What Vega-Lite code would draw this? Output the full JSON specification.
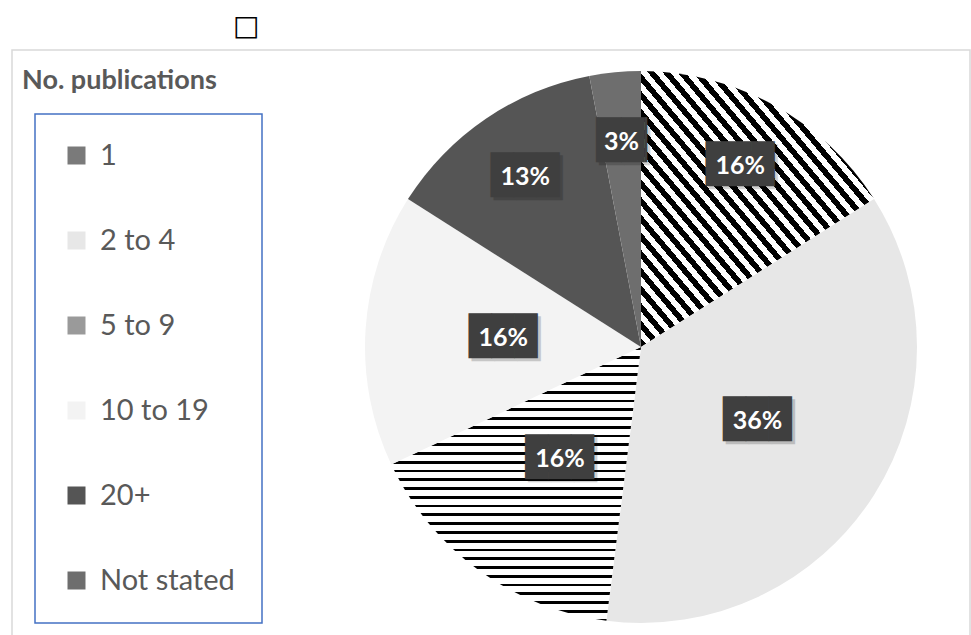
{
  "$schema": "https://vega.github.io/schema/vega-lite/v6.json",
  "width": 958,
  "height": 590,
  "autosize": {"type": "none"},
  "padding": {"left": 12, "top": 50, "right": 1, "bottom": 0},
  "background": "white",
  "view": {"stroke": "#d9d9d9", "strokeWidth": 1.5},
  "title": {
    "text": "□", "anchor": "start", "dx": 221, "offset": -66, "baseline": "alphabetic",
    "font": "DejaVu Sans", "fontSize": 28, "fontWeight": "normal", "color": "#000000",
    "subtitle": "No. publications", "subtitleFont": "Lato", "subtitleFontSize": 27, "subtitleFontWeight": "bold",
    "subtitleColor": "#595959", "subtitlePadding": 26,
    "encode": {"subtitle": {"update": {"dx": {"value": 10}}}}
  },
  "data": {
    "values": [
      {"idx": 1, "category": "1", "share": 0.16},
      {"idx": 2, "category": "2 to 4", "share": 0.36},
      {"idx": 3, "category": "5 to 9", "share": 0.16},
      {"idx": 4, "category": "10 to 19", "share": 0.16},
      {"idx": 5, "category": "20+", "share": 0.13},
      {"idx": 6, "category": "Not stated", "share": 0.03}
    ]
  },
  "encoding": {
    "theta": {"field": "share", "type": "quantitative", "stack": true},
    "order": {"field": "idx", "type": "quantitative"}
  },
  "layer": [
    {
      "mark": {"type": "arc", "outerRadius": 276, "xOffset": 150, "yOffset": 2},
      "encoding": {
        "color": {
          "condition": [
            {"test": "datum.category === '1'", "value":
              {"gradient": "linear", "x1": 0, "y1": 1, "x2": 1, "y2": 0, "stops": [
                {"offset": 0, "color": "black"},
                {"offset": 0.016, "color": "black"}, {"offset": 0.016, "color": "white"},
                {"offset": 0.032, "color": "white"}, {"offset": 0.032, "color": "black"},
                {"offset": 0.048, "color": "black"}, {"offset": 0.048, "color": "white"},
                {"offset": 0.064, "color": "white"}, {"offset": 0.064, "color": "black"},
                {"offset": 0.08, "color": "black"}, {"offset": 0.08, "color": "white"},
                {"offset": 0.096, "color": "white"}, {"offset": 0.096, "color": "black"},
                {"offset": 0.112, "color": "black"}, {"offset": 0.112, "color": "white"},
                {"offset": 0.128, "color": "white"}, {"offset": 0.128, "color": "black"},
                {"offset": 0.144, "color": "black"}, {"offset": 0.144, "color": "white"},
                {"offset": 0.16, "color": "white"}, {"offset": 0.16, "color": "black"},
                {"offset": 0.176, "color": "black"}, {"offset": 0.176, "color": "white"},
                {"offset": 0.192, "color": "white"}, {"offset": 0.192, "color": "black"},
                {"offset": 0.208, "color": "black"}, {"offset": 0.208, "color": "white"},
                {"offset": 0.224, "color": "white"}, {"offset": 0.224, "color": "black"},
                {"offset": 0.24, "color": "black"}, {"offset": 0.24, "color": "white"},
                {"offset": 0.256, "color": "white"}, {"offset": 0.256, "color": "black"},
                {"offset": 0.272, "color": "black"}, {"offset": 0.272, "color": "white"},
                {"offset": 0.288, "color": "white"}, {"offset": 0.288, "color": "black"},
                {"offset": 0.304, "color": "black"}, {"offset": 0.304, "color": "white"},
                {"offset": 0.32, "color": "white"}, {"offset": 0.32, "color": "black"},
                {"offset": 0.336, "color": "black"}, {"offset": 0.336, "color": "white"},
                {"offset": 0.352, "color": "white"}, {"offset": 0.352, "color": "black"},
                {"offset": 0.368, "color": "black"}, {"offset": 0.368, "color": "white"},
                {"offset": 0.384, "color": "white"}, {"offset": 0.384, "color": "black"},
                {"offset": 0.4, "color": "black"}, {"offset": 0.4, "color": "white"},
                {"offset": 0.416, "color": "white"}, {"offset": 0.416, "color": "black"},
                {"offset": 0.432, "color": "black"}, {"offset": 0.432, "color": "white"},
                {"offset": 0.448, "color": "white"}, {"offset": 0.448, "color": "black"},
                {"offset": 0.464, "color": "black"}, {"offset": 0.464, "color": "white"},
                {"offset": 0.48, "color": "white"}, {"offset": 0.48, "color": "black"},
                {"offset": 0.496, "color": "black"}, {"offset": 0.496, "color": "white"},
                {"offset": 0.512, "color": "white"}, {"offset": 0.512, "color": "black"},
                {"offset": 0.528, "color": "black"}, {"offset": 0.528, "color": "white"},
                {"offset": 0.544, "color": "white"}, {"offset": 0.544, "color": "black"},
                {"offset": 0.56, "color": "black"}, {"offset": 0.56, "color": "white"},
                {"offset": 0.576, "color": "white"}, {"offset": 0.576, "color": "black"},
                {"offset": 0.592, "color": "black"}, {"offset": 0.592, "color": "white"},
                {"offset": 0.608, "color": "white"}, {"offset": 0.608, "color": "black"},
                {"offset": 0.624, "color": "black"}, {"offset": 0.624, "color": "white"},
                {"offset": 0.64, "color": "white"}, {"offset": 0.64, "color": "black"},
                {"offset": 0.656, "color": "black"}, {"offset": 0.656, "color": "white"},
                {"offset": 0.672, "color": "white"}, {"offset": 0.672, "color": "black"},
                {"offset": 0.688, "color": "black"}, {"offset": 0.688, "color": "white"},
                {"offset": 0.704, "color": "white"}, {"offset": 0.704, "color": "black"},
                {"offset": 0.72, "color": "black"}, {"offset": 0.72, "color": "white"},
                {"offset": 0.736, "color": "white"}, {"offset": 0.736, "color": "black"},
                {"offset": 0.752, "color": "black"}, {"offset": 0.752, "color": "white"},
                {"offset": 0.768, "color": "white"}, {"offset": 0.768, "color": "black"},
                {"offset": 0.784, "color": "black"}, {"offset": 0.784, "color": "white"},
                {"offset": 0.8, "color": "white"}, {"offset": 0.8, "color": "black"},
                {"offset": 0.816, "color": "black"}, {"offset": 0.816, "color": "white"},
                {"offset": 0.832, "color": "white"}, {"offset": 0.832, "color": "black"},
                {"offset": 0.848, "color": "black"}, {"offset": 0.848, "color": "white"},
                {"offset": 0.864, "color": "white"}, {"offset": 0.864, "color": "black"},
                {"offset": 0.88, "color": "black"}, {"offset": 0.88, "color": "white"},
                {"offset": 0.896, "color": "white"}, {"offset": 0.896, "color": "black"},
                {"offset": 0.912, "color": "black"}, {"offset": 0.912, "color": "white"},
                {"offset": 0.928, "color": "white"}, {"offset": 0.928, "color": "black"},
                {"offset": 0.944, "color": "black"}, {"offset": 0.944, "color": "white"},
                {"offset": 0.96, "color": "white"}, {"offset": 0.96, "color": "black"},
                {"offset": 0.976, "color": "black"}, {"offset": 0.976, "color": "white"},
                {"offset": 0.992, "color": "white"}, {"offset": 0.992, "color": "black"},
                {"offset": 1, "color": "black"}
              ]}
            },
            {"test": "datum.category === '5 to 9'", "value":
              {"gradient": "linear", "x1": 0, "y1": 0, "x2": 0, "y2": 1, "stops": [
                {"offset": 0, "color": "black"},
                {"offset": 0.01, "color": "black"}, {"offset": 0.01, "color": "white"},
                {"offset": 0.032, "color": "white"}, {"offset": 0.032, "color": "black"},
                {"offset": 0.042, "color": "black"}, {"offset": 0.042, "color": "white"},
                {"offset": 0.064, "color": "white"}, {"offset": 0.064, "color": "black"},
                {"offset": 0.074, "color": "black"}, {"offset": 0.074, "color": "white"},
                {"offset": 0.096, "color": "white"}, {"offset": 0.096, "color": "black"},
                {"offset": 0.106, "color": "black"}, {"offset": 0.106, "color": "white"},
                {"offset": 0.128, "color": "white"}, {"offset": 0.128, "color": "black"},
                {"offset": 0.138, "color": "black"}, {"offset": 0.138, "color": "white"},
                {"offset": 0.16, "color": "white"}, {"offset": 0.16, "color": "black"},
                {"offset": 0.17, "color": "black"}, {"offset": 0.17, "color": "white"},
                {"offset": 0.192, "color": "white"}, {"offset": 0.192, "color": "black"},
                {"offset": 0.202, "color": "black"}, {"offset": 0.202, "color": "white"},
                {"offset": 0.224, "color": "white"}, {"offset": 0.224, "color": "black"},
                {"offset": 0.234, "color": "black"}, {"offset": 0.234, "color": "white"},
                {"offset": 0.256, "color": "white"}, {"offset": 0.256, "color": "black"},
                {"offset": 0.266, "color": "black"}, {"offset": 0.266, "color": "white"},
                {"offset": 0.288, "color": "white"}, {"offset": 0.288, "color": "black"},
                {"offset": 0.298, "color": "black"}, {"offset": 0.298, "color": "white"},
                {"offset": 0.32, "color": "white"}, {"offset": 0.32, "color": "black"},
                {"offset": 0.33, "color": "black"}, {"offset": 0.33, "color": "white"},
                {"offset": 0.352, "color": "white"}, {"offset": 0.352, "color": "black"},
                {"offset": 0.362, "color": "black"}, {"offset": 0.362, "color": "white"},
                {"offset": 0.384, "color": "white"}, {"offset": 0.384, "color": "black"},
                {"offset": 0.394, "color": "black"}, {"offset": 0.394, "color": "white"},
                {"offset": 0.416, "color": "white"}, {"offset": 0.416, "color": "black"},
                {"offset": 0.426, "color": "black"}, {"offset": 0.426, "color": "white"},
                {"offset": 0.448, "color": "white"}, {"offset": 0.448, "color": "black"},
                {"offset": 0.458, "color": "black"}, {"offset": 0.458, "color": "white"},
                {"offset": 0.48, "color": "white"}, {"offset": 0.48, "color": "black"},
                {"offset": 0.49, "color": "black"}, {"offset": 0.49, "color": "white"},
                {"offset": 0.512, "color": "white"}, {"offset": 0.512, "color": "black"},
                {"offset": 0.522, "color": "black"}, {"offset": 0.522, "color": "white"},
                {"offset": 0.544, "color": "white"}, {"offset": 0.544, "color": "black"},
                {"offset": 0.554, "color": "black"}, {"offset": 0.554, "color": "white"},
                {"offset": 0.576, "color": "white"}, {"offset": 0.576, "color": "black"},
                {"offset": 0.586, "color": "black"}, {"offset": 0.586, "color": "white"},
                {"offset": 0.608, "color": "white"}, {"offset": 0.608, "color": "black"},
                {"offset": 0.618, "color": "black"}, {"offset": 0.618, "color": "white"},
                {"offset": 0.64, "color": "white"}, {"offset": 0.64, "color": "black"},
                {"offset": 0.65, "color": "black"}, {"offset": 0.65, "color": "white"},
                {"offset": 0.672, "color": "white"}, {"offset": 0.672, "color": "black"},
                {"offset": 0.682, "color": "black"}, {"offset": 0.682, "color": "white"},
                {"offset": 0.704, "color": "white"}, {"offset": 0.704, "color": "black"},
                {"offset": 0.714, "color": "black"}, {"offset": 0.714, "color": "white"},
                {"offset": 0.736, "color": "white"}, {"offset": 0.736, "color": "black"},
                {"offset": 0.746, "color": "black"}, {"offset": 0.746, "color": "white"},
                {"offset": 0.768, "color": "white"}, {"offset": 0.768, "color": "black"},
                {"offset": 0.778, "color": "black"}, {"offset": 0.778, "color": "white"},
                {"offset": 0.8, "color": "white"}, {"offset": 0.8, "color": "black"},
                {"offset": 0.81, "color": "black"}, {"offset": 0.81, "color": "white"},
                {"offset": 0.832, "color": "white"}, {"offset": 0.832, "color": "black"},
                {"offset": 0.842, "color": "black"}, {"offset": 0.842, "color": "white"},
                {"offset": 0.864, "color": "white"}, {"offset": 0.864, "color": "black"},
                {"offset": 0.874, "color": "black"}, {"offset": 0.874, "color": "white"},
                {"offset": 0.896, "color": "white"}, {"offset": 0.896, "color": "black"},
                {"offset": 0.906, "color": "black"}, {"offset": 0.906, "color": "white"},
                {"offset": 0.928, "color": "white"}, {"offset": 0.928, "color": "black"},
                {"offset": 0.938, "color": "black"}, {"offset": 0.938, "color": "white"},
                {"offset": 0.96, "color": "white"}, {"offset": 0.96, "color": "black"},
                {"offset": 0.97, "color": "black"}, {"offset": 0.97, "color": "white"},
                {"offset": 0.992, "color": "white"}, {"offset": 0.992, "color": "black"},
                {"offset": 1, "color": "black"}
              ]}
            }
          ],
          "field": "category",
          "type": "nominal",
          "scale": {
            "domain": ["1", "2 to 4", "5 to 9", "10 to 19", "20+", "Not stated"],
            "range": ["#7a7a7a", "#e7e7e7", "#9a9a9a", "#f3f3f3", "#555555", "#6e6e6e"]
          },
          "legend": {
            "orient": "none",
            "legendX": 23,
            "legendY": 64,
            "title": null,
            "strokeColor": "#4472c4",
            "padding": 27,
            "symbolType": "square",
            "symbolSize": 324,
            "symbolStrokeWidth": 0,
            "labelFont": "Lato",
            "labelFontSize": 29,
            "labelColor": "#595959",
            "labelOffset": 9,
            "rowPadding": 55,
            "encode": {
              "legend": {"update": {"strokeWidth": {"value": 1.5}}}
            }
          }
        }
      }
    },
    {
      "mark": {"type": "text", "xOffset": 153, "yOffset": 5, "radius": {"expr": "indexof(['1','20+','Not stated'], datum.category) >= 0 ? 206 : 138"}, "font": "DejaVu Sans Mono", "fontSize": 38, "color": "#000000", "opacity": 0.18},
      "encoding": {
        "text": {"condition": {"test": "datum.share < 0.1", "value": "▕██▏"}, "value": "███"}
      }
    },
    {
      "mark": {"type": "text", "xOffset": 150, "yOffset": 2, "radius": {"expr": "indexof(['1','20+','Not stated'], datum.category) >= 0 ? 206 : 138"}, "font": "DejaVu Sans Mono", "fontSize": 38, "color": "#3f3f3f"},
      "encoding": {
        "text": {"condition": {"test": "datum.share < 0.1", "value": "▕██▏"}, "value": "███"}
      }
    },
    {
      "mark": {"type": "text", "xOffset": 150, "yOffset": 2, "radius": {"expr": "indexof(['1','20+','Not stated'], datum.category) >= 0 ? 206 : 138"}, "font": "Lato", "fontWeight": "bold", "fontSize": 25, "color": "white"},
      "encoding": {
        "text": {"field": "share", "type": "quantitative", "format": ".0%"}
      }
    }
  ],
  "config": {
    "view": {"stroke": "#d9d9d9", "strokeWidth": 1.5}
  }
}
